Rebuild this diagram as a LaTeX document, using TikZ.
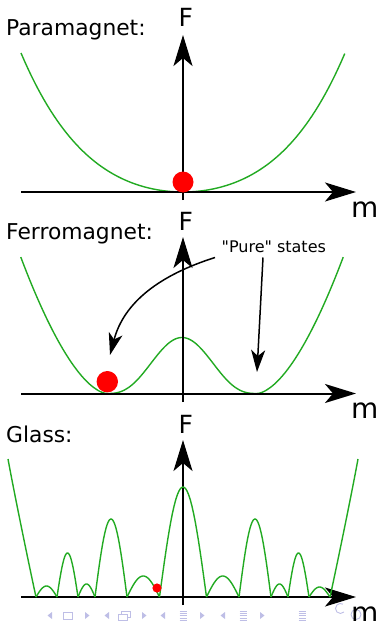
\documentclass[tikz,border=0pt]{standalone}
\usepackage{fontspec}
\setmainfont{DejaVu Sans}
\newfontfamily\notefont{DejaVu Sans}[Ligatures=TeXOff]
\usetikzlibrary{arrows.meta}
\definecolor{curvegreen}{RGB}{34,170,34}
\definecolor{navblue}{RGB}{190,190,230}
\begin{document}
\begin{tikzpicture}[x=1pt,y=-1pt,
  curve/.style={draw=curvegreen, line width=1.4pt, line join=round},
  axis/.style={line width=2pt, -{Stealth[length=31pt,width=19pt,inset=8pt]}},
  pointer/.style={line width=1.5pt, -{Stealth[length=22pt,width=14pt,inset=6pt]}},
  ball/.style={fill=red},
  title/.style={anchor=base west, inner sep=0pt, font=\fontsize{21.8}{26}\selectfont},
  flabel/.style={anchor=base west, inner sep=0pt, font=\fontsize{25}{30}\selectfont},
  mlabel/.style={anchor=base west, inner sep=0pt, font=\fontsize{28}{32}\selectfont},
  note/.style={anchor=base west, inner sep=0pt, font=\notefont\fontsize{16}{19}\selectfont},
  nav/.style={fill=navblue},
  navline/.style={draw=navblue, line width=0.9pt}
]
\useasboundingbox (0,0) rectangle (381,621);

% ---------- Paramagnet ----------
\node[title] (t1) at (6,35) {Paramagnet:};
\node[flabel] (f1) at (178.5,27) {F};
\node[mlabel] (m1) at (351,217) {m};
\draw[curve] plot[domain=-1:1, samples=100, variable=\t]
  ({183+162*\t}, {192-139*(0.627*\t*\t+0.373*\t*\t*\t*\t)});
\coordinate (v1b) at (183,200); \coordinate (v1t) at (183,35);
\coordinate (h1l) at (21,192);  \coordinate (h1r) at (356,192);
\draw[axis] (v1b) -- (v1t);
\draw[axis] (h1l) -- (h1r);
\fill[ball] (183,182) circle[radius=10.5pt];

% ---------- Ferromagnet ----------
\node[title] (t2) at (6,239) {Ferromagnet:};
\node[flabel] (f2) at (178.5,230) {F};
\node[mlabel] (m2) at (351,418) {m};
\draw[curve]
  plot[domain=1.15:0.0001, samples=40, variable=\t]
    ({182-75*(1+\t)}, {393.5-108*pow(\t,1.675)})
  -- plot[domain=-0.9999:0.9999, samples=80, variable=\t]
    ({182+75*\t}, {393.5-56*pow((1+cos(180*\t))/2,1.35)})
  -- plot[domain=0.0001:1.15, samples=40, variable=\t]
    ({182+75*(1+\t)}, {393.5-108*pow(\t,1.675)});
\coordinate (v2b) at (183,402); \coordinate (v2t) at (183,237);
\coordinate (h2l) at (21,393.5); \coordinate (h2r) at (356,393.5);
\draw[axis] (v2b) -- (v2t);
\draw[axis] (h2l) -- (h2r);
\fill[ball] (107.3,381.7) circle[radius=10.7pt];
\node[note] (pure) at (221.5,252) {"Pure" states};
\coordinate (pa) at (215,257.5);
\coordinate (pb) at (263,257.5);
\coordinate (wl) at (110,355);
\coordinate (wr) at (257,372);
\draw[pointer] (pa) .. controls (160,275) and (124,302) .. (wl);
\draw[pointer] (pb) -- (wr);

% ---------- Glass ----------
\node[title] (t3) at (6,442) {Glass:};
\node[flabel] (f3) at (178.5,433) {F};
\coordinate (v3b) at (183,605); \coordinate (v3t) at (183,440);
\coordinate (h3l) at (21,597);  \coordinate (h3r) at (356,597);
\draw[axis] (v3b) -- (v3t);
\draw[axis] (h3l) -- (h3r);
\draw[curve] (8,459) .. controls (14,492) and (29,565) .. (36,597);
\draw[curve] (330,597) .. controls (337,565) and (352,492) .. (358,459);
\foreach \a/\b/\h in {36/57/11, 57/78/44, 78/95/13, 95/127/78, 127/159.5/21,
                      159.5/206.5/110, 206.5/239/21, 239/271/78, 271/288/13,
                      288/309/44, 309/330/10} {
  \draw[curve] plot[domain=\a:\b, samples=30, variable=\t]
    (\t, {597-\h*sin(180*(\t-\a)/(\b-\a))});
}
\fill[ball] (157,588) circle[radius=4.6pt];

% ---------- navigation symbols ----------
\foreach \cx in {50,107,163,223} {
  \fill[nav] (\cx+2,612) -- (\cx+2,619) -- (\cx-2.5,615.5) -- cycle;
}
\foreach \cx in {87,144,202,262} {
  \fill[nav] (\cx-2,612) -- (\cx-2,619) -- (\cx+2.5,615.5) -- cycle;
}
\draw[navline] (63.5,612) rectangle (72.5,619);
\draw[navline, fill=white] (121,611) rectangle (130,617);
\draw[navline, fill=white] (118,614) rectangle (127,620);
\foreach \cx in {183,243,302} {
  \foreach \yy in {611,613.3,615.6,617.9,620.2} {
    \draw[navline, line width=0.7pt] (\cx-3.5,\yy) -- (\cx+3.5,\yy);
  }
}
\draw[navline] (344,612) arc[start angle=-45, end angle=-300, radius=5pt];
\draw[navline] (356,614.5) circle[radius=5pt];
\node[mlabel] (m3) at (351,622) {m};
\end{tikzpicture}
\end{document}
